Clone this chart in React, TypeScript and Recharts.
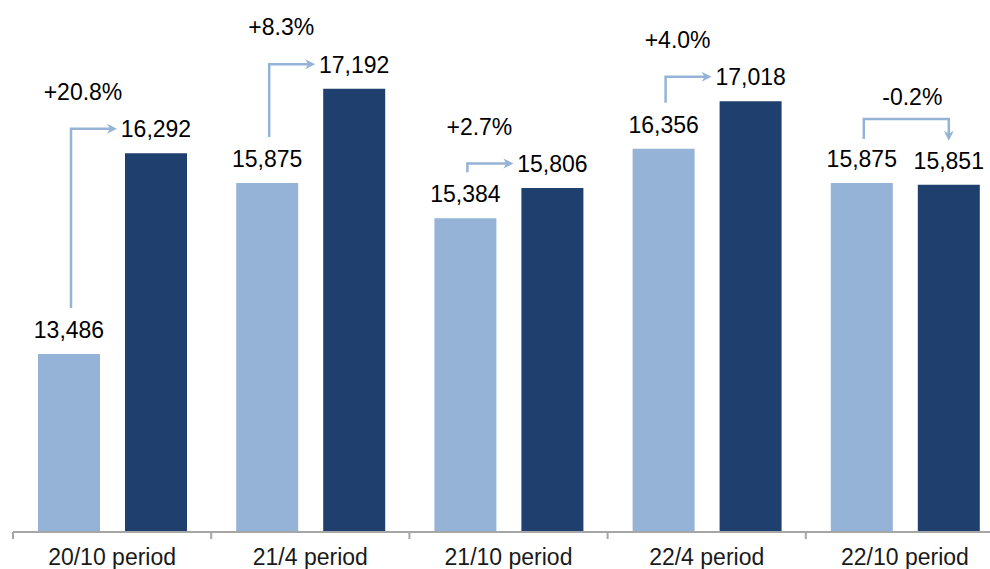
import { Bar, BarChart, LabelList, XAxis, YAxis } from "recharts";

const periods = ["20/10 period", "21/4 period", "21/10 period", "22/4 period", "22/10 period"];
const before = [13486, 15875, 15384, 16356, 15875];
const after = [16292, 17192, 15806, 17018, 15851];
const changes = ["+20.8%", "+8.3%", "+2.7%", "+4.0%", "-0.2%"];

const Y_MIN = 11000;
const Y_MAX = 18000;

const LIGHT = "#95b3d7";
const DARK = "#1f3f6e";
const AXIS = "#a6a6a6";
const FONT = '"Liberation Sans", Arial, sans-serif';

const CHART_W = 1004;
const CHART_H = 569;
const MARGIN = { top: 31, right: 0, bottom: 0, left: 13 };
const BAR_GAP = 25;
const LABEL_OFFSET = 16;
const CAP = 17; // digit height of the 23px labels

const data = periods.map((period, i) => ({
  period,
  before: before[i],
  after: after[i],
}));

const fmt = (v: any) => Number(v).toLocaleString("en-US");

// connector from the light bar's label to the dark bar's label, with the % change
function ChangeArrow(props: any) {
  const vb = props.viewBox ?? props;
  const { x, y, width, height } = vb;
  const i = props.index;
  if (x == null || i == null) return null;
  const base = y + height;
  const ppu = height / (after[i] - Y_MIN);
  const lightTop = base - (before[i] - Y_MIN) * ppu;
  const lx = x - BAR_GAP - width / 2 + 2;
  const dx = x + width / 2;
  const lightLabelTop = lightTop - LABEL_OFFSET - CAP;
  const darkLabelTop = y - LABEL_OFFSET - CAP;
  const textStyle = { fontFamily: FONT, fontSize: 23, fill: "#000" };

  if (after[i] - before[i] > 100) {
    const startY = lightLabelTop - 13;
    const elbowY = darkLabelTop + CAP / 2;
    const tipX = dx - 39;
    return (
      <g>
        <path
          d={`M${lx},${startY} V${elbowY} H${tipX - 6}`}
          fill="none"
          stroke={LIGHT}
          strokeWidth={2.5}
        />
        <polygon
          points={`${tipX},${elbowY} ${tipX - 10},${elbowY - 5} ${tipX - 7},${elbowY} ${tipX - 10},${elbowY + 5}`}
          fill={LIGHT}
        />
        <text x={lx + 12} y={elbowY - 29} textAnchor="middle" {...textStyle}>
          {changes[i]}
        </text>
      </g>
    );
  }

  const startY = lightLabelTop - 11;
  const endY = darkLabelTop - 11;
  const topY = Math.min(lightLabelTop, darkLabelTop) - 31;
  return (
    <g>
      <path
        d={`M${lx},${startY} V${topY} H${dx} V${endY - 6}`}
        fill="none"
        stroke={LIGHT}
        strokeWidth={2.5}
      />
      <polygon
        points={`${dx},${endY} ${dx - 5},${endY - 10} ${dx},${endY - 7} ${dx + 5},${endY - 10}`}
        fill={LIGHT}
      />
      <text x={(lx + dx) / 2 + 6} y={topY - 14} textAnchor="middle" {...textStyle}>
        {changes[i]}
      </text>
    </g>
  );
}

function PeriodTick(props: any) {
  const { x, y, payload, index } = props;
  const half = (CHART_W - MARGIN.left - MARGIN.right) / periods.length / 2;
  return (
    <g>
      <line x1={x - half} x2={x - half} y1={y} y2={y + 7} stroke={AXIS} strokeWidth={2} />
      {index === periods.length - 1 && (
        <line x1={x + half} x2={x + half} y1={y} y2={y + 7} stroke={AXIS} strokeWidth={2} />
      )}
      <text
        x={x}
        y={y + 33}
        textAnchor="middle"
        fontFamily={FONT}
        fontSize={23}
        fill="#1a1a1a"
      >
        {payload.value}
      </text>
    </g>
  );
}

export default function App() {
  return (
    <div
      style={{
        position: "absolute",
        left: 0,
        top: 0,
        width: 990,
        height: 569,
        overflow: "hidden",
        background: "#fff",
      }}
    >
      <BarChart
        width={CHART_W}
        height={CHART_H}
        data={data}
        margin={MARGIN}
        barCategoryGap={25}
        barGap={BAR_GAP}
      >
        <XAxis
          dataKey="period"
          stroke={AXIS}
          axisLine={{ stroke: AXIS, strokeWidth: 2 }}
          tickLine={false}
          tickSize={0}
          tickMargin={0}
          height={37}
          interval={0}
          tick={<PeriodTick />}
        />
        <YAxis hide type="number" domain={[Y_MIN, Y_MAX]} allowDataOverflow />
        <Bar dataKey="before" fill={LIGHT} isAnimationActive={false}>
          <LabelList
            dataKey="before"
            position="top"
            offset={LABEL_OFFSET}
            formatter={fmt}
            style={{ fontFamily: FONT, fontSize: 23, fill: "#000" }}
          />
        </Bar>
        <Bar dataKey="after" fill={DARK} isAnimationActive={false}>
          <LabelList
            dataKey="after"
            position="top"
            offset={LABEL_OFFSET}
            formatter={fmt}
            style={{ fontFamily: FONT, fontSize: 23, fill: "#000" }}
          />
          <LabelList dataKey="after" content={<ChangeArrow />} />
        </Bar>
      </BarChart>
    </div>
  );
}
